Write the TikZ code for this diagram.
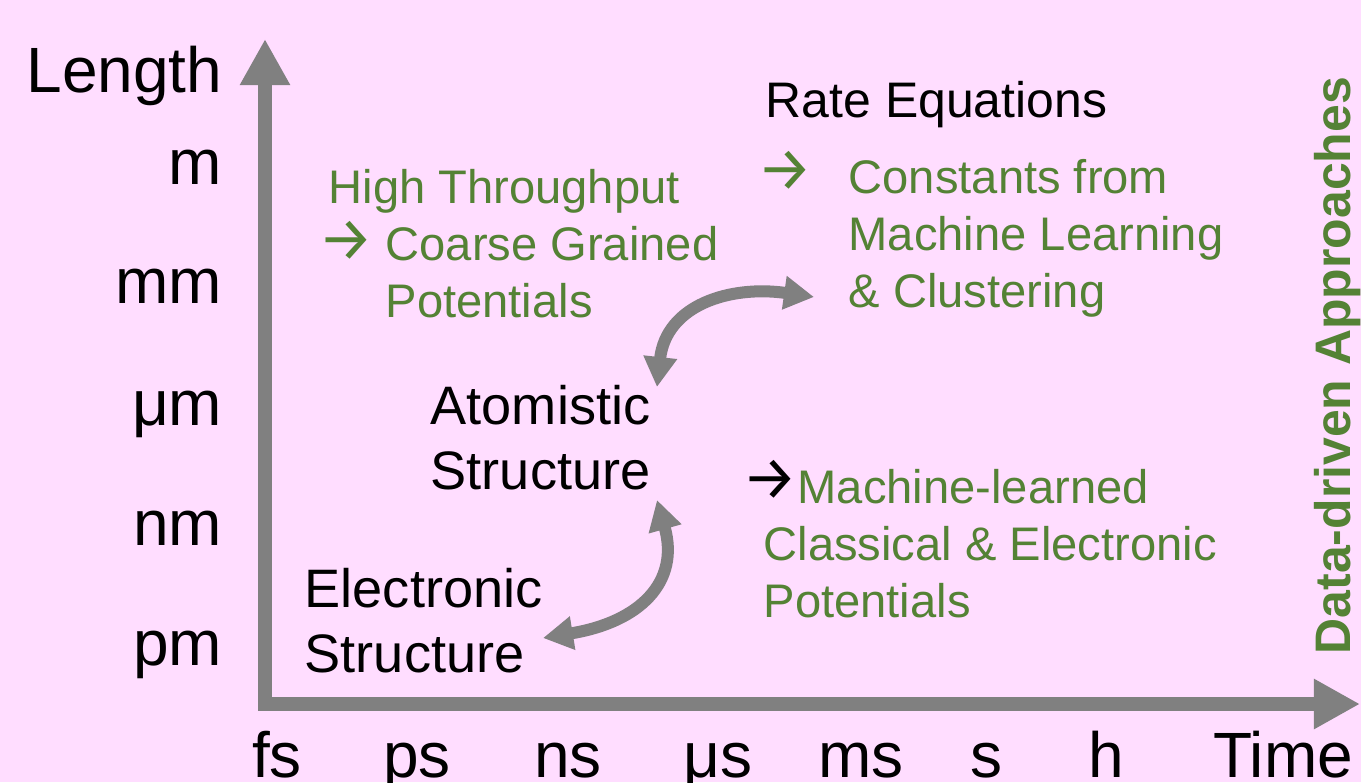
\documentclass[tikz,border=0pt]{standalone}
\usepackage{fontspec}
\setmainfont{Liberation Sans}
\newfontfamily\arrowfont{Fira Sans}
\usetikzlibrary{arrows.meta}
\definecolor{bgpink}{RGB}{255,221,255}
\definecolor{dgreen}{RGB}{84,130,53}
\definecolor{axgray}{RGB}{128,128,128}
\begin{document}
\begin{tikzpicture}[x=0.01cm, y=-0.01cm,
    axislbl/.style={inner sep=0, font=\fontsize{18.2pt}{21pt}\selectfont},
    blacktxt/.style={inner sep=0, align=left, font=\fontsize{15.4pt}{18.3pt}\selectfont},
    greentxt/.style={inner sep=0, align=left, text=dgreen, font=\fontsize{13.4pt}{16.1pt}\selectfont},
    arrowtxt/.style={inner sep=0, font=\arrowfont\fontsize{17.5pt}{21pt}\selectfont},
    bigarrow/.style={draw=axgray, line width=0.145cm, line join=miter,
        {Triangle[length=0.46cm,width=0.47cm]}-{Triangle[length=0.46cm,width=0.47cm]}},
    swaparrow/.style={draw=axgray, line width=0.12cm,
        {Triangle[length=0.3cm,width=0.32cm]}-{Triangle[length=0.3cm,width=0.32cm]}}]
    \fill[bgpink] (0,0) rectangle (1361,782);
    \useasboundingbox (0,0) rectangle (1361,782);
    % axes
    \coordinate (origin) at (265,704);
    \coordinate (ytop) at (265,39);
    \coordinate (xend) at (1360,704);
    \draw[bigarrow] (ytop) -- (origin) -- (xend);
    \node[axislbl, anchor=base east] (lenlbl) at (223,93) {Length};
    \foreach \lbl/\yy [count=\i] in {m/185, mm/303, μm/425, nm/545, pm/665} {
        \node[axislbl, anchor=base east] (ytick\i) at (223,\yy) {\lbl};
    }
    \foreach \lbl/\xx [count=\i] in {fs/277, ps/417, ns/568, μs/718, ms/861, s/986, h/1106, Time/1283} {
        \node[axislbl, anchor=base] (xtick\i) at (\xx,777) {\lbl};
    }
    % scales
    \node[blacktxt, anchor=north west] (atomistic) at (430,385) {Atomistic\\Structure};
    \node[blacktxt, anchor=north west] (electronic) at (304,568) {Electronic\\Structure};
    \node[blacktxt, font=\fontsize{14.2pt}{17pt}\selectfont, anchor=base west] (rateeq) at (765,117) {Rate Equations};
    % data-driven parts
    \node[greentxt, anchor=base west] (highthr) at (328,204) {High Throughput};
    \node[arrowtxt, text=dgreen, anchor=base west] (cgarrow) at (317.5,260) {→};
    \node[greentxt, anchor=north west] (cgpot) at (385,226) {Coarse Grained\\Potentials};
    \node[arrowtxt, text=dgreen, anchor=base west] (constarrow) at (756.5,191) {→};
    \node[greentxt, anchor=north west] (constml) at (848,159) {Constants from\\Machine Learning\\\& Clustering};
    \node[arrowtxt, anchor=base west] (mlarrow) at (741.5,499) {→};
    \node[greentxt, anchor=base west] (mlhead) at (797,503) {Machine-learned};
    \node[greentxt, anchor=north west] (mlpot) at (763,526) {Classical \& Electronic\\Potentials};
    \node[greentxt, font=\bfseries\fontsize{14.2pt}{17pt}\selectfont, rotate=90, anchor=base west] (datadriven) at (1350,655) {Data-driven Approaches};
    % links
    \coordinate (atomtop) at (657,387);
    \coordinate (rateend) at (814,297);
    \coordinate (atombot) at (657,500);
    \coordinate (elecend) at (543,638);
    \draw[swaparrow] (atomtop) .. controls (666,305) and (730,285) .. (rateend);
    \draw[swaparrow] (atombot) .. controls (680,582) and (640,622) .. (elecend);
\end{tikzpicture}
\end{document}
